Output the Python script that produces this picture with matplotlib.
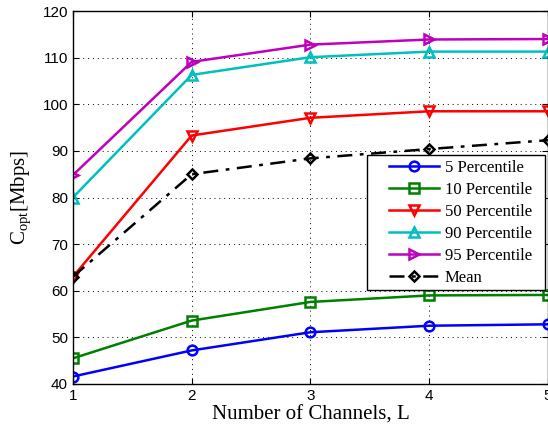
import matplotlib
matplotlib.use("Agg")
import matplotlib.pyplot as plt
from matplotlib.patches import Rectangle

channels = [1, 2, 3, 4, 5]
p5 = [41.6, 47.2, 51.1, 52.5, 52.8]
p10 = [45.5, 53.6, 57.6, 59.0, 59.1]
p50 = [63.0, 93.3, 97.1, 98.5, 98.5]
p90 = [80.0, 106.3, 110.1, 111.3, 111.3]
p95 = [84.8, 109.1, 112.8, 113.9, 114.0]
mean = [63.0, 85.0, 88.4, 90.4, 92.3]

series = [
    ("5 Percentile", p5, "#0000ff", "o", "-"),
    ("10 Percentile", p10, "#008000", "s", "-"),
    ("50 Percentile", p50, "#ff0000", "v", "-"),
    ("90 Percentile", p90, "#00bfbf", "^", "-"),
    ("95 Percentile", p95, "#bf00bf", ">", "-"),
    ("Mean", mean, "#000000", "D", (0, (6, 3, 1.5, 3))),
]

fig = plt.figure(figsize=(5.48, 4.25), dpi=100)
ax = fig.add_axes([0.133, 0.0965, 0.867, 0.8775])

for label, vals, col, mk, ls in series:
    ms = 5.5 if mk == "D" else 7
    ax.plot(channels, vals, color=col, linestyle=ls, linewidth=1.8, marker=mk,
            markersize=ms, markerfacecolor="none", markeredgecolor=col,
            markeredgewidth=1.8, label=label)

ax.set_xlim(1, 5)
ax.set_ylim(40, 120)
ax.set_xticks(channels)
ax.set_yticks(range(40, 121, 10))
ax.grid(True, color="black", linestyle=(0, (1, 4)), linewidth=0.7)
ax.tick_params(direction="in", labelsize=11, length=4, top=True, right=True)
for lab in ax.get_xticklabels() + ax.get_yticklabels():
    lab.set_family("Liberation Sans")
for sp in ax.spines.values():
    sp.set_linewidth(1)

ax.set_xlabel("Number of Channels, L", family="Liberation Serif", fontsize=15, labelpad=2)
ax.set_ylabel(r"C$_{\mathregular{opt}}$[Mbps]", family="Liberation Serif", fontsize=15, labelpad=6)

# legend box (MATLAB-style padding)
box = Rectangle((0.619, 0.252), 0.375, 0.362, transform=ax.transAxes,
                facecolor="white", edgecolor="black", linewidth=1, zorder=4.5,
                clip_on=False)
ax.add_patch(box)
leg = ax.legend(loc="center left", bbox_to_anchor=(0.665, 0.433),
                prop={"family": "Liberation Serif", "size": 12},
                frameon=False, borderpad=0, borderaxespad=0,
                handlelength=3.0, labelspacing=0.36, handletextpad=0.35)
leg.set_zorder(5)

fig.savefig("out.png", dpi=100)
